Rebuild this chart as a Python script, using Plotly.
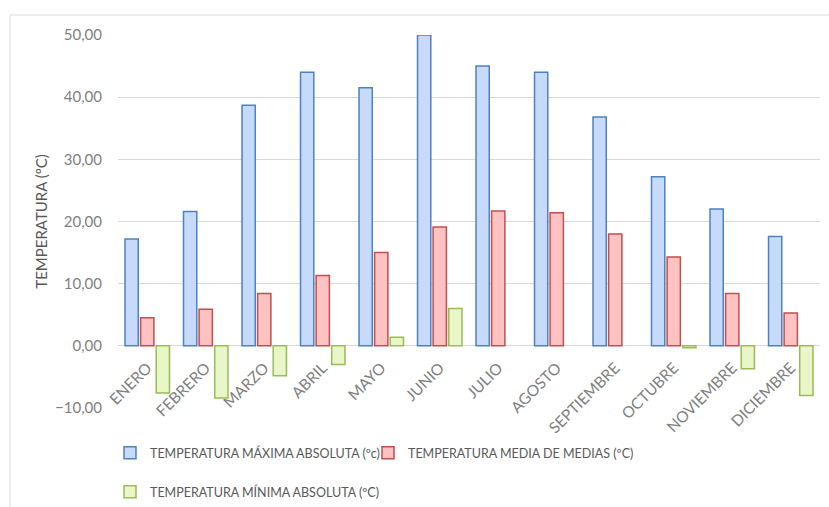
import plotly.graph_objects as go

meses = ["ENERO", "FEBRERO", "MARZO", "ABRIL", "MAYO", "JUNIO", "JULIO",
         "AGOSTO", "SEPTIEMBRE", "OCTUBRE", "NOVIEMBRE", "DICIEMBRE"]

t_max_abs = [17.2, 21.6, 38.7, 44.0, 41.5, 50.0, 45.0, 44.0, 36.8, 27.2, 22.0, 17.6]
t_media = [4.5, 5.9, 8.4, 11.3, 15.0, 19.1, 21.7, 21.4, 18.0, 14.3, 8.4, 5.3]
t_min_abs = [-7.6, -8.4, -4.8, -3.0, 1.4, 6.0, None, None, None, -0.3, -3.7, -8.0]

nombres = ["TEMPERATURA MÁXIMA ABSOLUTA (ºc)",
           "TEMPERATURA MEDIA DE MEDIAS (ºC)",
           "TEMPERATURA MÍNIMA ABSOLUTA (ºC)"]

W, H = 829, 507
L, R, T, B = 118, 9, 35, 99
pw, ph = W - L - R, H - T - B
font_fam = "Lato, 'Liberation Sans', sans-serif"


def px_x(p):
    return (p - L) / pw


def px_y(p):
    return (T + ph - p) / ph


fig = go.Figure()
fig.add_trace(go.Bar(x=meses, y=t_max_abs, name=nombres[0],
                     marker=dict(color="#C6DAFB", line=dict(color="#4F81BD", width=1.5)),
                     legend="legend", showlegend=True))
fig.add_trace(go.Bar(x=meses, y=t_media, name=nombres[1],
                     marker=dict(color="#FFC2C2", line=dict(color="#C0504D", width=1.5)),
                     legend="legend2", showlegend=True))
fig.add_trace(go.Bar(x=meses, y=t_min_abs, name=nombres[2],
                     marker=dict(color="#E8F6C8", line=dict(color="#9BBB59", width=1.5)),
                     legend="legend3", showlegend=True))

ymin, ymax = -10, 50

# outer chart frame
fig.add_shape(type="rect", xref="paper", yref="paper",
              x0=px_x(10), x1=px_x(W + 5), y0=px_y(H + 5), y1=px_y(15),
              line=dict(color="#D9D9D9", width=1), fillcolor="rgba(0,0,0,0)", layer="below")

leg_common = dict(orientation="h", xanchor="left", yanchor="middle",
                  font=dict(size=12.5, color="#595959"),
                  bgcolor="rgba(0,0,0,0)", itemwidth=30, visible=True)

fig.update_layout(
    width=W, height=H,
    showlegend=True,
    margin=dict(l=L, r=R, t=T, b=B, autoexpand=False),
    paper_bgcolor="white", plot_bgcolor="white",
    separators=",.",
    barmode="group", bargap=0.2, bargroupgap=0.15,
    font=dict(family=font_fam, color="#595959", size=14),
    legend=dict(x=px_x(110), y=px_y(453), **leg_common),
    legend2=dict(x=px_x(368), y=px_y(453), **leg_common),
    legend3=dict(x=px_x(110), y=px_y(492), **leg_common),
    xaxis=dict(anchor="free", position=(0 - ymin) / (ymax - ymin),
               tickangle=-45, showgrid=False, showline=False,
               ticks="outside", ticklen=6, tickcolor="rgba(0,0,0,0)",
               tickfont=dict(size=15.5, color="#7F7F7F")),
    yaxis=dict(range=[ymin, ymax], dtick=10, tickformat=".2f",
               showgrid=True, gridcolor="#D9D9D9", gridwidth=1.3,
               zeroline=True, zerolinecolor="#D9D9D9", zerolinewidth=1.3,
               ticks="outside", ticklen=12, tickcolor="rgba(0,0,0,0)",
               tickfont=dict(size=15, color="#7F7F7F"),
               title=dict(text="TEMPERATURA (ºC)", standoff=3,
                          font=dict(size=15, color="#595959"))),
)

fig.write_html("out.html")
